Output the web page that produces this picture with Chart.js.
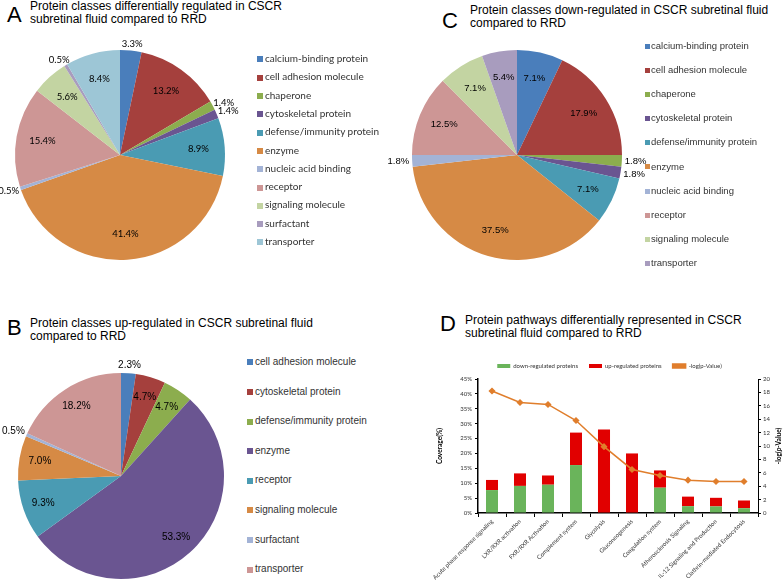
<!DOCTYPE html>
<html>
<head>
<meta charset="utf-8">
<script src="https://cdn.jsdelivr.net/npm/chart.js@4.4.0/dist/chart.umd.min.js"></script>
<style>
  body { margin: 0; width: 783px; height: 583px; overflow: hidden; background: #fff; position: relative;
         font-family: "Liberation Sans", Arial, sans-serif; }
  .letter { position: absolute; font-size: 22px; line-height: 22px; color: #000; }
  .title { position: absolute; font-size: 12px; line-height: 13px; color: #000; white-space: nowrap; }
  canvas { position: absolute; }
  .legend { position: absolute; color: #333; white-space: nowrap; }
  .legend div { position: absolute; left: 0; }
  .legend span.sw { display: inline-block; vertical-align: middle; }
</style>
</head>
<body>

<div class="letter" style="left:7px;top:4px">A</div>
<div class="title" style="left:30px;top:0px">Protein classes differentially regulated in CSCR<br>subretinal fluid compared to RRD</div>
<div class="letter" style="left:442px;top:10px">C</div>
<div class="title" style="left:470px;top:4px">Protein classes down-regulated in CSCR subretinal fluid<br>compared to RRD</div>
<div class="letter" style="left:7px;top:317px">B</div>
<div class="title" style="left:30px;top:317px">Protein classes up-regulated in CSCR subretinal fluid<br>compared to RRD</div>
<div class="letter" style="left:440px;top:313px">D</div>
<div class="title" style="left:465px;top:314px">Protein pathways differentially represented in CSCR<br>subretinal fluid compared to RRD</div>

<canvas id="pieA" width="280" height="240" style="left:-20px;top:35px"></canvas>
<canvas id="pieC" width="274" height="240" style="left:380px;top:35px"></canvas>
<canvas id="pieB" width="242" height="240" style="left:0px;top:356px"></canvas>
<canvas id="barD" width="383" height="231" style="left:400px;top:352px"></canvas>

<div class="legend" id="legA"></div>
<div class="legend" id="legC"></div>
<div class="legend" id="legB"></div>

<script>
// Panel A - all differentially regulated classes
const classesA = ['calcium-binding protein', 'cell adhesion molecule', 'chaperone', 'cytoskeletal protein',
  'defense/immunity protein', 'enzyme', 'nucleic acid binding', 'receptor', 'signaling molecule',
  'surfactant', 'transporter'];
const percentA = [3.3, 13.2, 1.4, 1.4, 8.9, 41.4, 0.5, 15.4, 5.6, 0.5, 8.4];

// Panel B - up-regulated
const classesB = ['cell adhesion molecule', 'cytoskeletal protein', 'defense/immunity protein', 'enzyme',
  'receptor', 'signaling molecule', 'surfactant', 'transporter'];
const percentB = [2.3, 4.7, 4.7, 53.3, 9.3, 7.0, 0.5, 18.2];

// Panel C - down-regulated
const classesC = ['calcium-binding protein', 'cell adhesion molecule', 'chaperone', 'cytoskeletal protein',
  'defense/immunity protein', 'enzyme', 'nucleic acid binding', 'receptor', 'signaling molecule', 'transporter'];
const percentC = [7.1, 17.9, 1.8, 1.8, 7.1, 37.5, 1.8, 12.5, 7.1, 5.4];

// Panel D - pathways
const pathways = ['Acute phase response signaling', 'LXR/RXR activation', 'FXR/RXR Activation',
  'Complement system', 'Glycolysis', 'Gluconeogenesis', 'Coagulation system',
  'Atherosclerosis Signaling', 'IL-12 Signaling and Production', 'Clathrin-mediated Endocytosis'];
const downRegulated = [7.7, 9.1, 9.5, 16.1, 0, 0, 8.5, 2.3, 2.2, 1.6];
const upRegulated = [3.4, 4.2, 3.1, 10.9, 28.0, 20.0, 5.8, 3.2, 2.9, 2.6];
const logPValue = [18.2, 16.5, 16.2, 13.8, 9.9, 6.5, 5.6, 4.9, 4.7, 4.7];
const coverageTicks = [0, 45, 5];
const logPTicks = [0, 20, 2];
const coverageTitle = 'Coverage(%)';
const logPTitle = '-log(p-Value)';

// excel-ish palette
const palette = ['#4A7EBB', '#A5403D', '#8CAD4E', '#6A5591', '#4A9BB3', '#D68A45',
  '#A3B3D6', '#CD9695', '#C3D4A2', '#A89CBE', '#9DC6D6'];

// percent labels on the pie, small slices go outside
const pieLabels = {
  id: 'pieLabels',
  afterDatasetsDraw(chart, args, opts) {
    const ctx = chart.ctx;
    const meta = chart.getDatasetMeta(0);
    const values = chart.data.datasets[0].data;
    ctx.save();
    ctx.font = opts.font;
    ctx.fillStyle = '#000';
    ctx.textAlign = 'center';
    ctx.textBaseline = 'middle';
    meta.data.forEach((arc, i) => {
      const p = arc.getProps(['x', 'y', 'startAngle', 'endAngle', 'outerRadius'], true);
      const mid = (p.startAngle + p.endAngle) / 2;
      const dx = Math.cos(mid), dy = Math.sin(mid);
      const text = values[i].toFixed(1) + '%';
      let tx, ty;
      if (values[i] < 4) {
        const w = ctx.measureText(text).width;
        tx = p.x + dx * (p.outerRadius + opts.gap) + dx * w / 2;
        ty = p.y + dy * (p.outerRadius + opts.gap) + dy * opts.size / 2;
      } else {
        tx = p.x + dx * p.outerRadius * opts.inner;
        ty = p.y + dy * p.outerRadius * opts.inner;
      }
      ctx.fillText(text, tx, ty);
    });
    ctx.restore();
  }
};

function makePie(id, labels, values, radius, labelOpts) {
  return new Chart(document.getElementById(id), {
    type: 'pie',
    data: {
      labels: labels,
      datasets: [{
        data: values,
        backgroundColor: palette.slice(0, values.length),
        borderWidth: 0,
        radius: radius
      }]
    },
    options: {
      responsive: false,
      animation: false,
      layout: { padding: 0 },
      plugins: {
        legend: { display: false },
        tooltip: { enabled: false },
        pieLabels: labelOpts
      }
    },
    plugins: [pieLabels]
  });
}

function makeLegend(id, labels, o) {
  const el = document.getElementById(id);
  el.style.left = o.x + 'px';
  el.style.top = o.y + 'px';
  el.style.font = o.font;
  labels.forEach((lab, i) => {
    const row = document.createElement('div');
    row.style.top = (i * o.step - o.lh / 2) + 'px';
    row.style.lineHeight = o.lh + 'px';
    row.innerHTML = '<span class="sw" style="width:' + o.box + 'px;height:' + o.box + 'px;background:' +
      palette[i] + ';margin-right:' + o.gap + 'px"></span>' + lab;
    el.appendChild(row);
  });
}

makePie('pieA', classesA, percentA, 105, { font: '9.5px Lato', size: 9, gap: 2, inner: 0.75 });
makePie('pieC', classesC, percentC, 105, { font: '9.5px "Liberation Sans"', size: 9, gap: 3, inner: 0.75 });
makePie('pieB', classesB, percentB, 103, { font: '10px "Liberation Sans"', size: 10, gap: 3, inner: 0.8 });

makeLegend('legA', classesA, { x: 257, y: 58, step: 18.3, box: 6, gap: 2, lh: 12, font: '10px Lato' });
makeLegend('legC', classesC, { x: 645, y: 46, step: 24.1, box: 5, gap: 1, lh: 12, font: '9.5px "Liberation Sans"' });
makeLegend('legB', classesB, { x: 247, y: 362, step: 29.6, box: 6, gap: 2, lh: 12, font: '10px "Liberation Sans"' });

// right axis title reads bottom-to-top like the left one
const rightTitle = {
  id: 'rightTitle',
  afterDraw(chart) {
    const { ctx, chartArea } = chart;
    ctx.save();
    ctx.translate(chart.width - 4, (chartArea.top + chartArea.bottom) / 2);
    ctx.rotate(-Math.PI / 2);
    ctx.font = 'bold 6.5px Lato';
    ctx.fillStyle = '#000';
    ctx.textAlign = 'center';
    ctx.textBaseline = 'middle';
    ctx.fillText(logPTitle, 0, 0);
    ctx.restore();
  }
};

const tickFont = { family: 'Lato', size: 6 };

new Chart(document.getElementById('barD'), {
  type: 'bar',
  data: {
    labels: pathways,
    datasets: [
      { label: 'down-regulated proteins', data: downRegulated, backgroundColor: '#6AB45B',
        stack: 'cov', order: 1, barPercentage: 0.43, categoryPercentage: 1 },
      { label: 'up-regulated proteins', data: upRegulated, backgroundColor: '#E10000',
        stack: 'cov', order: 2, barPercentage: 0.43, categoryPercentage: 1 },
      { type: 'line', label: logPTitle, data: logPValue, yAxisID: 'y1', order: 0,
        borderColor: '#E07E2C', backgroundColor: '#E07E2C', borderWidth: 1.5,
        pointStyle: 'rectRot', pointRadius: 2.5, pointBackgroundColor: '#E07E2C', tension: 0 }
    ]
  },
  options: {
    responsive: false,
    animation: false,
    layout: { padding: { left: 36, top: 0, right: 0, bottom: 0 } },
    plugins: {
      tooltip: { enabled: false },
      legend: {
        position: 'top',
        labels: {
          boxWidth: 13, boxHeight: 4, padding: 11, color: '#333', font: tickFont,
          sort: (a, b) => a.datasetIndex - b.datasetIndex
        }
      }
    },
    scales: {
      x: {
        stacked: true,
        grid: { display: true, drawOnChartArea: false, tickLength: 4, color: '#000', offset: true },
        border: { color: '#000', width: 1.5 },
        ticks: { autoSkip: false, minRotation: 45, maxRotation: 45, color: '#333', font: tickFont, padding: 1 },
        afterFit: s => { s.height = 70; }
      },
      y: {
        stacked: true,
        position: 'left',
        min: coverageTicks[0], max: coverageTicks[1],
        grid: { display: true, drawOnChartArea: false, tickLength: 3, color: '#000' },
        border: { color: '#000', width: 1.5 },
        ticks: { stepSize: coverageTicks[2], color: '#333', font: tickFont, padding: 3, callback: v => v + '%' },
        title: { display: true, text: coverageTitle, color: '#000', font: { family: 'Lato', size: 6.5, weight: 'bold' }, padding: 0 },
        afterFit: s => { s.width = 42; }
      },
      y1: {
        position: 'right',
        min: logPTicks[0], max: logPTicks[1],
        grid: { display: true, drawOnChartArea: false, tickLength: 3, color: '#000' },
        border: { color: '#000', width: 1 },
        ticks: { stepSize: logPTicks[2], color: '#333', font: tickFont, padding: 2 },
        afterFit: s => { s.width = 25; }
      }
    }
  },
  plugins: [rightTitle]
});
</script>
</body>
</html>
